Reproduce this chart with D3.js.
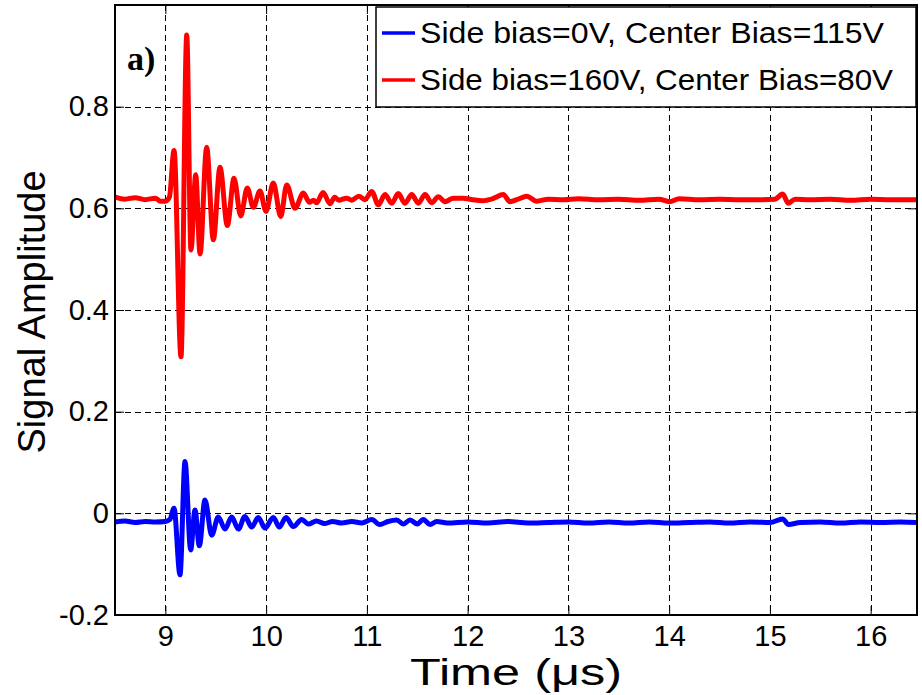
<!DOCTYPE html>
<html>
<head>
<meta charset="utf-8">
<script src="https://cdn.jsdelivr.net/npm/d3@7"></script>
<style>
  html, body { margin: 0; padding: 0; background: #fff; }
  svg { display: block; }
  text { font-family: "Liberation Sans", Arial, Helvetica, sans-serif; fill: #000; }
</style>
</head>
<body>
<svg id="chart" width="922" height="695"></svg>
<script>
// Ultrasonic receive signals (offset for display), time in microseconds
const redTime = [8.50, 8.60, 8.70, 8.80, 8.90, 8.95, 9.00, 9.04, 9.086, 9.155, 9.212, 9.254, 9.301, 9.344,
  9.410, 9.476, 9.542, 9.615, 9.681, 9.748, 9.813, 9.873, 9.939, 9.999, 10.071, 10.145, 10.204, 10.287,
  10.369, 10.43, 10.47, 10.50, 10.565, 10.634, 10.68, 10.72, 10.80, 10.85, 10.92, 10.98, 11.048, 11.114,
  11.180, 11.246, 11.312, 11.378, 11.445, 11.511, 11.577, 11.643, 11.709, 11.775, 11.858, 11.95, 12.05,
  12.15, 12.25, 12.354, 12.42, 12.50, 12.586, 12.686, 12.80, 12.95, 13.10, 13.30, 13.50, 13.70, 13.90,
  14.002, 14.10, 14.30, 14.50, 14.70, 14.90, 15.05, 15.127, 15.183, 15.25, 15.40, 15.60, 15.80, 16.00,
  16.20, 16.46];
const redValue = [0.622, 0.618, 0.621, 0.617, 0.620, 0.614, 0.614, 0.622, 0.714, 0.308, 0.941, 0.518, 0.666, 0.510,
  0.720, 0.538, 0.681, 0.566, 0.659, 0.585, 0.640, 0.602, 0.634, 0.594, 0.650, 0.584, 0.646, 0.600,
  0.630, 0.612, 0.616, 0.611, 0.631, 0.609, 0.622, 0.616, 0.620, 0.616, 0.624, 0.617, 0.633, 0.607,
  0.627, 0.610, 0.629, 0.610, 0.627, 0.610, 0.627, 0.611, 0.623, 0.613, 0.620, 0.620, 0.617,
  0.615, 0.619, 0.627, 0.613, 0.618, 0.624, 0.614, 0.618, 0.617, 0.619, 0.617, 0.618, 0.616, 0.618,
  0.613, 0.619, 0.617, 0.618, 0.617, 0.617, 0.618, 0.628, 0.610, 0.618, 0.617, 0.618, 0.616, 0.618,
  0.617, 0.617];

const blueTime = [8.50, 8.60, 8.70, 8.80, 8.90, 9.00, 9.045, 9.086, 9.145, 9.195, 9.251, 9.294, 9.337, 9.393,
  9.460, 9.525, 9.592, 9.658, 9.724, 9.790, 9.857, 9.922, 9.989, 10.071, 10.131, 10.197, 10.270, 10.353,
  10.42, 10.50, 10.58, 10.66, 10.75, 10.85, 10.95, 11.048, 11.127, 11.21, 11.296, 11.362, 11.428, 11.501,
  11.560, 11.627, 11.693, 11.80, 12.00, 12.20, 12.40, 12.60, 12.80, 13.00, 13.20, 13.40, 13.60, 13.80,
  14.00, 14.20, 14.40, 14.60, 14.80, 15.00, 15.127, 15.183, 15.30, 15.50, 15.70, 15.90, 16.10, 16.30, 16.46];
const blueValue = [-0.017, -0.015, -0.018, -0.016, -0.017, -0.016, -0.012, 0.010, -0.121, 0.102, -0.072, 0.0065, -0.064, 0.026,
  -0.043, -0.007, -0.031, -0.007, -0.031, -0.006, -0.027, -0.008, -0.029, -0.008, -0.027, -0.008, -0.026, -0.012,
  -0.021, -0.015, -0.020, -0.016, -0.019, -0.016, -0.019, -0.012, -0.022, -0.016, -0.013, -0.021, -0.013, -0.021,
  -0.012, -0.022, -0.016, -0.019, -0.017, -0.019, -0.016, -0.019, -0.018, -0.017, -0.019, -0.017, -0.019, -0.017,
  -0.019, -0.018, -0.017, -0.019, -0.017, -0.018, -0.011, -0.022, -0.018, -0.017, -0.019, -0.017, -0.018, -0.017, -0.018];

const xTicks = [9, 10, 11, 12, 13, 14, 15, 16];
const yTicks = [-0.2, 0, 0.2, 0.4, 0.6, 0.8];
const yTickLabels = ["-0.2", "0", "0.2", "0.4", "0.6", "0.8"];
const legendLabels = ["Side bias=0V, Center Bias=115V", "Side bias=160V, Center Bias=80V"];
const seriesColors = ["#0000ff", "#ff0000"];

const svg = d3.select("#chart");
const plot = { left: 115, right: 917, top: 5, bottom: 615 };

const x = d3.scaleLinear().domain([8.5, 16.46]).range([plot.left, plot.right]);
const y = d3.scaleLinear().domain([-0.2, 1.0]).range([plot.bottom, plot.top]);

// clip for traces
svg.append("defs").append("clipPath").attr("id", "plotClip")
  .append("rect").attr("x", plot.left).attr("y", plot.top)
  .attr("width", plot.right - plot.left).attr("height", plot.bottom - plot.top);

// dashed grid
const grid = svg.append("g").attr("stroke", "#000").attr("stroke-width", 1).attr("stroke-dasharray", "6,4");
grid.selectAll("line.gx").data(xTicks).join("line").attr("class", "gx")
  .attr("x1", d => Math.round(x(d)) + 0.5).attr("x2", d => Math.round(x(d)) + 0.5)
  .attr("y1", plot.top).attr("y2", plot.bottom);
grid.selectAll("line.gy").data(yTicks.slice(1)).join("line").attr("class", "gy")
  .attr("y1", d => Math.round(y(d)) + 0.5).attr("y2", d => Math.round(y(d)) + 0.5)
  .attr("x1", plot.left).attr("x2", plot.right);

// traces
const line = d3.line().x(d => x(d[0])).y(d => y(d[1])).curve(d3.curveMonotoneX);
const redPts = redTime.map((t, i) => [t, redValue[i]]);
const bluePts = blueTime.map((t, i) => [t, blueValue[i]]);
const traces = svg.append("g").attr("clip-path", "url(#plotClip)");
traces.append("path").datum(bluePts).attr("d", line)
  .attr("fill", "none").attr("stroke", seriesColors[0]).attr("stroke-width", 5)
  .attr("stroke-linejoin", "round").attr("stroke-linecap", "round");
traces.append("path").datum(redPts).attr("d", line)
  .attr("fill", "none").attr("stroke", seriesColors[1]).attr("stroke-width", 5)
  .attr("stroke-linejoin", "round").attr("stroke-linecap", "round");

// axes with inward ticks
const xAxisB = d3.axisBottom(x).tickValues(xTicks).tickSize(-9).tickPadding(10).tickFormat(d3.format("d"));
const xAxisT = d3.axisTop(x).tickValues(xTicks).tickSize(-9).tickFormat("");
const yAxisL = d3.axisLeft(y).tickValues(yTicks).tickSize(-9).tickPadding(6)
  .tickFormat((d, i) => yTickLabels[i]);
const yAxisR = d3.axisRight(y).tickValues(yTicks).tickSize(-9).tickFormat("");

function styleAxis(g) {
  g.select(".domain").remove();
  g.selectAll(".tick line").attr("stroke", "#000").attr("stroke-width", 1);
  g.selectAll(".tick text").attr("font-size", 29).attr("fill", "#000")
    .style("font-family", '"Liberation Sans", Arial, sans-serif');
}
svg.append("g").attr("transform", `translate(0,${plot.bottom})`).call(xAxisB).call(styleAxis);
svg.append("g").attr("transform", `translate(0,${plot.top})`).call(xAxisT).call(styleAxis);
svg.append("g").attr("transform", `translate(${plot.left},0)`).call(yAxisL).call(styleAxis);
svg.append("g").attr("transform", `translate(${plot.right},0)`).call(yAxisR).call(styleAxis);

// axes box
svg.append("rect").attr("x", plot.left).attr("y", plot.top)
  .attr("width", plot.right - plot.left).attr("height", plot.bottom - plot.top)
  .attr("fill", "none").attr("stroke", "#000").attr("stroke-width", 2);

// axis titles
svg.append("text").attr("x", 516).attr("y", 685)
  .attr("text-anchor", "middle").attr("font-size", 37)
  .attr("textLength", 212).attr("lengthAdjust", "spacingAndGlyphs")
  .text("Time (\u03bcs)");
svg.append("text").attr("transform", "translate(45,312) rotate(-90)")
  .attr("text-anchor", "middle").attr("font-size", 38).text("Signal Amplitude");

// panel tag
svg.append("text").attr("x", 127).attr("y", 70)
  .style("font-family", '"Liberation Serif", "Times New Roman", serif')
  .attr("font-weight", "bold").attr("font-size", 34).text("a)");

// legend
const leg = svg.append("g");
leg.append("rect").attr("x", 376).attr("y", 7).attr("width", 540).attr("height", 100)
  .attr("fill", "#fff").attr("stroke", "#000").attr("stroke-width", 1.5);
const legRows = [0, 1];
const legRowY = d3.scalePoint().domain(legRows).range([33, 80]);
leg.selectAll("line.key").data(legRows).join("line").attr("class", "key")
  .attr("x1", 382).attr("x2", 415)
  .attr("y1", d => legRowY(d)).attr("y2", d => legRowY(d))
  .attr("stroke", d => seriesColors[d]).attr("stroke-width", 3.5);
leg.selectAll("text.lab").data(legRows).join("text").attr("class", "lab")
  .attr("x", 420).attr("y", d => legRowY(d) + 10)
  .attr("font-size", 29)
  .attr("textLength", d => d === 0 ? 464 : 473)
  .attr("lengthAdjust", "spacingAndGlyphs")
  .text(d => legendLabels[d]);
</script>
</body>
</html>
